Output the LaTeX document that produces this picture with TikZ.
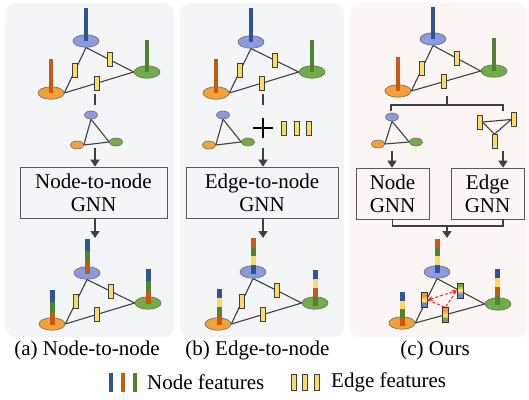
\documentclass[tikz,border=0pt]{standalone}
\usepackage{fontspec}
\setmainfont{Liberation Serif}
\usetikzlibrary{shapes.geometric,arrows.meta}
\definecolor{panelab}{RGB}{244,245,247}
\definecolor{panelc}{RGB}{251,246,243}
\definecolor{nblue}{RGB}{140,154,224}
\definecolor{ngreen}{RGB}{112,173,71}
\definecolor{norange}{RGB}{244,162,56}
\definecolor{cblue}{RGB}{47,85,151}
\definecolor{cgreen}{RGB}{84,130,53}
\definecolor{corange}{RGB}{197,90,17}
\definecolor{cyel}{RGB}{255,217,102}
\definecolor{gblue}{RGB}{100,135,215}
\definecolor{ggreen}{RGB}{110,170,70}
\definecolor{gorange}{RGB}{242,150,55}
\definecolor{lcol}{RGB}{64,64,64}
\definecolor{ndraw}{RGB}{105,105,105}
\definecolor{boxdraw}{RGB}{90,90,90}
\definecolor{dred}{RGB}{235,45,35}
\newcommand{\stackbar}[4]{%
  \foreach \cc [count=\ii from 0] in {#4} {
    \fill[\cc] ({#1-2.5},{#2-\ii*#3}) rectangle ({#1+2.5},{#2-(\ii+1)*#3});
  }}
\newcommand{\solidbar}[4]{\fill[#4] ({#1-2},#2) rectangle ({#1+2},#3);}
% gradient feature: center x, center y, top colour, bottom colour
\newcommand{\gradfeat}[4]{%
  \fill[#3] ({#1-3.25},{#2-7.5}) rectangle ({#1+3.25},{#2-3});
  \fill[#3!50!cyel] ({#1-3.25},{#2-3.5}) rectangle ({#1+3.25},{#2-1.5});
  \fill[cyel] ({#1-3.25},{#2-1.5}) rectangle ({#1+3.25},{#2+1.5});
  \fill[#4!50!cyel] ({#1-3.25},{#2+1.5}) rectangle ({#1+3.25},{#2+3.5});
  \fill[#4] ({#1-3.25},{#2+3}) rectangle ({#1+3.25},{#2+7.5});
  \draw[black!80, line width=0.8pt] ({#1-3.25},{#2-7.5}) rectangle ({#1+3.25},{#2+7.5});}
\begin{document}
\begin{tikzpicture}[x=1pt,y=-1pt,
  panel/.style={rounded corners=10pt},
  gnode/.style={ellipse, draw=ndraw, line width=0.6pt, inner sep=0pt, minimum width=26pt, minimum height=12.5pt},
  bnode/.style={gnode, fill=nblue},
  gnnode/.style={gnode, fill=ngreen},
  onode/.style={gnode, fill=norange},
  sml/.style={minimum width=13pt, minimum height=8pt},
  edge/.style={draw=lcol, line width=1.1pt},
  efeat/.style={rectangle, draw=lcol, line width=0.8pt, fill=cyel, minimum width=5pt, minimum height=14pt, inner sep=0pt},
  gfeat/.style={rectangle, inner sep=0pt, minimum width=6.5pt, minimum height=15pt},
  conn/.style={draw=lcol, line width=1.4pt},
  arr/.style={conn, -{Triangle[length=7pt,width=9pt]}},
  gnnbox/.style={draw=boxdraw, line width=0.7pt, align=center, inner sep=0pt, font=\fontsize{21}{23}\selectfont},
  lbl/.style={font=\fontsize{21}{24}\selectfont, inner sep=0pt},
  reddash/.style={draw=dred, line width=1pt, dash pattern=on 3pt off 2pt}
]
\useasboundingbox (0,0) rectangle (529,399);
% panels
\fill[panelab, panel] (5,3) rectangle (174,337);
\fill[panelab, panel] (180,3) rectangle (344,337);
\fill[panelc, panel] (350,3) rectangle (527,337);

% ================= panel (a) =================
\node[bnode] (a1b) at (86,41) {};
\node[gnnode] (a1g) at (147,72) {};
\node[onode] (a1o) at (51,93) {};
\draw[edge] (a1b.south) -- node[efeat]{} (a1o.east);
\draw[edge] (a1b.south) -- node[efeat]{} (a1g.west);
\draw[edge] (a1o.east) -- node[efeat,pos=0.47]{} (a1g.west);
\solidbar{86}{8}{41}{cblue}
\solidbar{147}{40}{72}{cgreen}
\solidbar{51}{59}{93}{corange}
\coordinate (a-d1) at (95,94);
\coordinate (a-d2) at (95,105);
\draw[conn] (a-d1) -- (a-d2);
\node[bnode,sml] (a2b) at (91,115) {};
\node[onode,sml] (a2o) at (77,145) {};
\node[gnnode,sml] (a2g) at (116,142) {};
\draw[edge] (a2b.south) -- (a2o.east);
\draw[edge] (a2b.south) -- (a2g.west);
\draw[edge] (a2o.east) -- (a2g.west);
\node[gnnbox, minimum width=147pt, minimum height=51pt] (abox) at (93.5,192.5) {Node-to-node\\GNN};
\coordinate (a-in) at (95,148);
\coordinate (a-out) at (95,238);
\draw[arr] (a-in) -- (a-in |- abox.north);
\draw[arr] (a-out |- abox.south) -- (a-out);
\node[bnode] (a3b) at (87,273) {};
\node[gnnode] (a3g) at (148,303) {};
\node[onode] (a3o) at (52,324) {};
\draw[edge] (a3b.south) -- node[efeat]{} (a3o.east);
\draw[edge] (a3b.south) -- node[efeat]{} (a3g.west);
\draw[edge] (a3o.east) -- node[efeat,pos=0.45]{} (a3g.west);
\stackbar{87}{274}{11.6}{corange,cgreen,cblue}
\stackbar{148}{304}{11.6}{corange,cgreen,cblue}
\stackbar{52}{325}{11.6}{corange,cgreen,cblue}

% ================= panel (b) =================
\node[bnode] (b1b) at (251,42) {};
\node[gnnode] (b1g) at (312,72) {};
\node[onode] (b1o) at (216,93) {};
\draw[edge] (b1b.south) -- node[efeat]{} (b1o.east);
\draw[edge] (b1b.south) -- node[efeat]{} (b1g.west);
\draw[edge] (b1o.east) -- node[efeat,pos=0.47]{} (b1g.west);
\solidbar{251}{8}{42}{cblue}
\solidbar{312}{40}{72}{cgreen}
\solidbar{216}{59}{93}{corange}
\coordinate (b-d1) at (263,94);
\coordinate (b-d2) at (263,105);
\draw[conn] (b-d1) -- (b-d2);
\node[bnode,sml] (b2b) at (223,115) {};
\node[onode,sml] (b2o) at (209,145) {};
\node[gnnode,sml] (b2g) at (248,142) {};
\draw[edge] (b2b.south) -- (b2o.east);
\draw[edge] (b2b.south) -- (b2g.west);
\draw[edge] (b2o.east) -- (b2g.west);
\coordinate (plus) at (263,128);
\draw[black, line width=2.2pt] ([xshift=-10pt]plus) -- ([xshift=10pt]plus);
\draw[black, line width=2.2pt] ([yshift=-10pt]plus) -- ([yshift=10pt]plus);
\node[efeat] (bf1) at (284,128) {};
\node[efeat] (bf2) at (297,128) {};
\node[efeat] (bf3) at (309,128) {};
\node[gnnbox, minimum width=152pt, minimum height=51pt] (bbox) at (262,192.5) {Edge-to-node\\GNN};
\coordinate (b-in) at (263,148);
\coordinate (b-out) at (263,238);
\draw[arr] (b-in) -- (b-in |- bbox.north);
\draw[arr] (b-out |- bbox.south) -- (b-out);
\node[bnode] (b3b) at (253,272) {};
\node[gnnode] (b3g) at (315,303) {};
\node[onode] (b3o) at (218,324) {};
\draw[edge] (b3b.south) -- node[efeat]{} (b3o.east);
\draw[edge] (b3b.south) -- node[efeat]{} (b3g.west);
\draw[edge] (b3o.east) -- node[efeat,pos=0.45]{} (b3g.west);
\stackbar{253}{274}{9}{cblue,cyel,cgreen,corange}
\stackbar{315}{306}{9}{cgreen,corange,cyel,cblue}
\stackbar{219}{325}{9}{corange,cgreen,cyel,cblue}

% ================= panel (c) =================
\node[bnode] (c1b) at (433,39) {};
\node[gnnode] (c1g) at (494,71) {};
\node[onode] (c1o) at (398,91) {};
\draw[edge] (c1b.south) -- node[efeat]{} (c1o.east);
\draw[edge] (c1b.south) -- node[efeat]{} (c1g.west);
\draw[edge] (c1o.east) -- node[efeat,pos=0.47]{} (c1g.west);
\solidbar{433}{7}{39}{cblue}
\solidbar{494}{38}{71}{cgreen}
\solidbar{398}{57}{91}{corange}
% split bracket
\coordinate (c-top) at (447,96);
\coordinate (c-mid) at (447,105);
\coordinate (c-l) at (391,111);
\coordinate (c-r) at (503,111);
\draw[conn] (c-top) -- (c-mid);
\draw[conn] (c-l) |- (c-mid) -| (c-r);
% small node graph
\node[bnode,sml] (c2b) at (392,117) {};
\node[onode,sml] (c2o) at (378,144) {};
\node[gnnode,sml] (c2g) at (416,142) {};
\draw[edge] (c2b.south) -- (c2o.east);
\draw[edge] (c2b.south) -- (c2g.west);
\draw[edge] (c2o.east) -- (c2g.west);
% small edge graph
\node[efeat] (cel) at (479.5,122) {};
\node[efeat] (cer) at (514,119.5) {};
\node[efeat] (ceb) at (494.5,141.5) {};
\draw[edge] (cel.east) -- (cer.west);
\draw[edge] (cel.east) -- (ceb.north);
\draw[edge] (cer.west) -- (ceb.north);
% boxes
\node[gnnbox, minimum width=73pt, minimum height=51pt] (cnbox) at (392.5,193.5) {Node\\GNN};
\node[gnnbox, minimum width=73pt, minimum height=51pt] (cebox) at (487.5,193.5) {Edge\\GNN};
\coordinate (c-in1) at (392,151);
\coordinate (c-in2) at (503,151);
\draw[arr] (c-in1) -- (c-in1 |- cnbox.north);
\draw[arr] (c-in2) -- (c-in2 |- cebox.north);
\coordinate (c-join) at (447,226);
\coordinate (c-out) at (447,238);
\draw[conn] (cnbox.south) |- (c-join);
\draw[conn] (c-in2 |- cebox.south) |- (c-join);
\draw[arr] (c-join) -- (c-out);
% output graph
\node[bnode] (c3b) at (437,272) {};
\node[gnnode] (c3g) at (498,304) {};
\node[onode] (c3o) at (402,323) {};
\draw[edge] (c3b.south) -- (c3o.east);
\draw[edge] (c3b.south) -- (c3g.west);
\draw[edge] (c3o.east) -- (c3g.west);
\gradfeat{424.25}{300}{gorange}{gblue}
\node[gfeat] (cfl) at (424.25,300) {};
\gradfeat{460.25}{290.5}{ggreen}{gblue}
\node[gfeat] (cfr) at (460.25,290.5) {};
\gradfeat{445.25}{315}{gorange}{ggreen}
\node[gfeat] (cfb) at (445.25,315) {};
\draw[reddash, {Stealth[length=5pt,width=5pt]}-{Stealth[length=5pt,width=5pt]}] (cfl.east) -- (cfr.west);
\draw[reddash] (cfl.east) -- (cfb.north) -- (cfr.west);
\stackbar{437}{273}{8.4}{cblue,cyel,cgreen,corange}
\stackbar{497}{305}{9}{cgreen,corange,cyel,cblue}
\stackbar{402}{326}{8.5}{corange,cgreen,cyel,cblue}

% ================= captions and legend =================
\node[lbl] (capa) at (87,350) {(a) Node-to-node};
\node[lbl] (capb) at (257.5,350) {(b) Edge-to-node};
\node[lbl] (capc) at (435,350) {(c) Ours};
\fill[cblue] (109,373) rectangle (113,392);
\fill[corange] (121,373) rectangle (125,392);
\fill[cgreen] (133,373) rectangle (137,392);
\node[lbl, anchor=west] (lgn) at (147,382) {Node features};
\node[efeat, minimum height=16pt] (lf1) at (294,382) {};
\node[efeat, minimum height=16pt] (lf2) at (305,382) {};
\node[efeat, minimum height=16pt] (lf3) at (317,382) {};
\node[lbl, anchor=west] (lge) at (331,382) {Edge features};
\end{tikzpicture}
\end{document}
